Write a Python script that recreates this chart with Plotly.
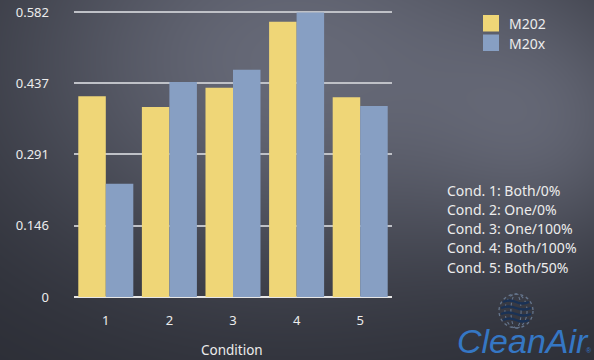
import base64
import struct
import zlib

import numpy as np
import plotly.graph_objects as go

# ---- data ----
conditions = ["1", "2", "3", "4", "5"]
series_names = ["M202", "M20x"]
m202_values = [0.410, 0.388, 0.427, 0.562, 0.408]
m20x_values = [0.231, 0.439, 0.464, 0.581, 0.390]
y_tickvals = [0, 0.1455, 0.291, 0.4365, 0.582]
y_ticktext = ["0", "0.146", "0.291", "0.437", "0.582"]
condition_notes = [
    "Cond. 1: Both/0%",
    "Cond. 2: One/0%",
    "Cond. 3: One/100%",
    "Cond. 4: Both/100%",
    "Cond. 5: Both/50%",
]

Y_MAX = 0.588
W, H = 594, 360
L, R, T, B = 74, 202, 9, 63
PW, PH = W - L - R, H - T - B

YELLOW = "#efd677"
BLUE = "#879fc3"
TEXT = "#ececec"
FONT = "Noto Sans"


def px(x):
    return (x - L) / PW


def py(y):
    return (H - B - y) / PH


# ---- chalkboard background as an inline PNG ----
def png_data_uri(rgb):
    h, w, _ = rgb.shape
    raw = b"".join(b"\x00" + rgb[i].tobytes() for i in range(h))

    def chunk(tag, data):
        c = tag + data
        return struct.pack(">I", len(data)) + c + struct.pack(">I", zlib.crc32(c) & 0xFFFFFFFF)

    png = b"\x89PNG\r\n\x1a\n"
    png += chunk(b"IHDR", struct.pack(">IIBBBBB", w, h, 8, 2, 0, 0, 0))
    png += chunk(b"IDAT", zlib.compress(raw, 9))
    png += chunk(b"IEND", b"")
    return "data:image/png;base64," + base64.b64encode(png).decode()


yy, xx = np.mgrid[0:H, 0:W].astype(float)
glow = np.exp(-(((xx - 290) / 300) ** 2 + ((yy - 60) / 220) ** 2))
glow2 = 0.5 * np.exp(-(((xx - 560) / 130) ** 2 + ((yy - 130) / 130) ** 2))
wgt = np.clip(glow + glow2, 0, 1)[..., None]
dark = np.array([42, 44, 52], float)
light = np.array([102, 105, 119], float)
bg = (dark + (light - dark) * wgt).clip(0, 255).astype(np.uint8)

fig = go.Figure()
fig.add_trace(go.Bar(x=conditions, y=m202_values, name=series_names[0],
                     marker=dict(color=YELLOW, line=dict(width=0))))
fig.add_trace(go.Bar(x=conditions, y=m20x_values, name=series_names[1],
                     marker=dict(color=BLUE, line=dict(width=0))))

shapes = []
annotations = []

# legend swatches and labels
for i, (name, col) in enumerate(zip(series_names, [YELLOW, BLUE])):
    y0 = 15 + i * 19.5
    shapes.append(dict(type="rect", xref="paper", yref="paper",
                       x0=px(483), x1=px(499), y0=py(y0), y1=py(y0 + 16.5),
                       fillcolor=col, line=dict(width=0)))
    annotations.append(dict(text=name, xref="paper", yref="paper",
                            x=px(507), y=py(y0 + 8.5), xanchor="left", yanchor="middle",
                            showarrow=False, font=dict(family=FONT, size=14, color=TEXT)))

# condition notes
for i, note in enumerate(condition_notes):
    annotations.append(dict(text=note, xref="paper", yref="paper",
                            x=px(445), y=py(190 + i * 19.3), xanchor="left", yanchor="middle",
                            showarrow=False, font=dict(family=FONT, size=14, color=TEXT)))

# axis title
annotations.append(dict(text="Condition", xref="paper", yref="paper",
                        x=px(232), y=py(350), xanchor="center", yanchor="middle",
                        showarrow=False, font=dict(family=FONT, size=13.5, color=TEXT)))

# CleanAir logo: globe
cx, cy, r = 516, 311, 17
navy = "#1a3256"
grey = "#65758c"
shapes.append(dict(type="circle", xref="paper", yref="paper",
                   x0=px(cx - r), x1=px(cx + r), y0=py(cy + r), y1=py(cy - r),
                   line=dict(color=grey, width=1.3, dash="dot")))
for k in [0.3, 0.65]:
    shapes.append(dict(type="circle", xref="paper", yref="paper",
                       x0=px(cx - r * k), x1=px(cx + r * k), y0=py(cy + r), y1=py(cy - r),
                       line=dict(color=grey, width=1.1, dash="dot")))
for dy in [-9, -3, 3, 9]:
    half = (r ** 2 - dy ** 2) ** 0.5 * 0.9
    x0, x1 = cx - half, cx + half
    path = (f"M{px(x0)},{py(cy + dy)} Q{px((x0 + cx) / 2)},{py(cy + dy - 3)} {px(cx)},{py(cy + dy)} "
            f"T{px(x1)},{py(cy + dy)}")
    shapes.append(dict(type="path", xref="paper", yref="paper", path=path,
                       line=dict(color=navy, width=2.4)))

annotations.append(dict(text="<i>CleanAir</i>", xref="paper", yref="paper",
                        x=px(523), y=py(341), xanchor="center", yanchor="middle",
                        showarrow=False,
                        font=dict(family="Liberation Sans", size=34, color="#3577c4")))
annotations.append(dict(text="®", xref="paper", yref="paper",
                        x=px(589), y=py(350), xanchor="center", yanchor="middle",
                        showarrow=False,
                        font=dict(family="Liberation Sans", size=7, color="#3577c4")))

fig.update_layout(
    width=W, height=H,
    margin=dict(l=L, r=R, t=T, b=B, autoexpand=False),
    paper_bgcolor="#3a3d46",
    plot_bgcolor="rgba(0,0,0,0)",
    barmode="group",
    bargap=0.135,
    bargroupgap=0,
    showlegend=False,
    font=dict(family=FONT, color=TEXT),
    shapes=shapes,
    annotations=annotations,
    images=[dict(source=png_data_uri(bg), xref="paper", yref="paper",
                 x=px(0), y=py(0), sizex=W / PW, sizey=H / PH,
                 xanchor="left", yanchor="top", sizing="stretch", layer="below")],
)
fig.update_xaxes(
    showgrid=False, showline=False, ticks="",
    tickfont=dict(family=FONT, size=13, color=TEXT),
    ticklabelstandoff=14,
)
fig.update_yaxes(
    range=[0, Y_MAX],
    tickvals=y_tickvals, ticktext=y_ticktext,
    showgrid=True, gridcolor="#bfc1c7", gridwidth=2,
    zeroline=True, zerolinecolor="#e6e6e6", zerolinewidth=2,
    showline=False, ticks="",
    tickfont=dict(family=FONT, size=13, color=TEXT),
    ticklabelstandoff=24,
)

fig.write_html("out.html")
